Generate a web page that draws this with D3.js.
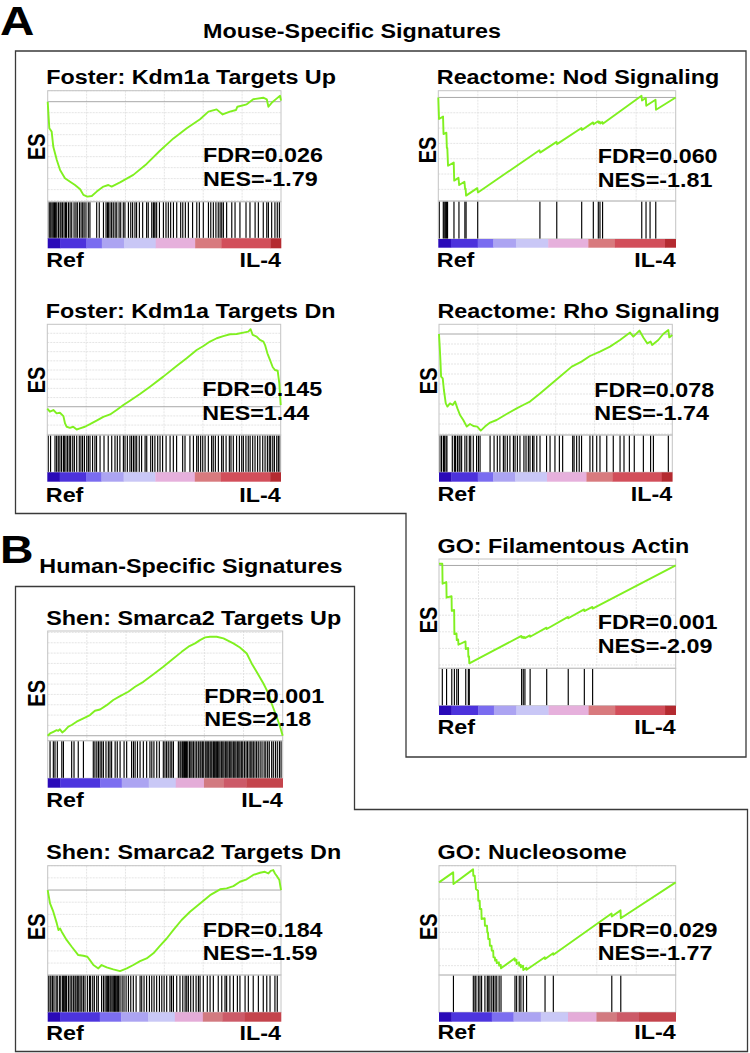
<!DOCTYPE html>
<html><head><meta charset="utf-8">
<script src="https://cdn.jsdelivr.net/npm/d3@7"></script>
<style>
body{margin:0;background:#fff}
text{font-family:"Liberation Sans",Arial,Helvetica,sans-serif;font-weight:bold;fill:#000}
</style></head>
<body><svg id="chart" width="750" height="1053"></svg>
<script>
// ---------------- DATA ----------------
const titles = ["Foster: Kdm1a Targets Up","Reactome: Nod Signaling","Foster: Kdm1a Targets Dn","Reactome: Rho Signaling",
  "GO: Filamentous Actin","Shen: Smarca2 Targets Up","Shen: Smarca2 Targets Dn","GO: Nucleosome"];
const fdrValues = ["0.026","0.060","0.145","0.078","0.001","0.001","0.184","0.029"];
const nesValues = ["-1.79","-1.81","1.44","-1.74","-2.09","2.18","-1.59","-1.77"];
const groupLabels = ["Ref","IL-4"];
const sectionHeaders = ["Mouse-Specific Signatures","Human-Specific Signatures"];
const sectionLetters = ["A","B"];

// ES domains [min,max] and gridline step (ES units)
const esDomains = [[-0.455,0.05],[-0.676,0.044],[-0.154,0.449],[-0.505,0.0485],[-0.62,0.039],[-0.024,0.507],[-0.349,0.1],[-0.556,0.1]];
const esSteps = [0.05,0.1,0.05,0.05,0.1,0.05,0.05,0.1];

// running enrichment score: [rank % of list, ES]
const esFosterUp = [[0,0],[0.3,-0.053],[0.7,-0.121],[1.7,-0.136],[2.4,-0.205],[3.9,-0.265],[5.3,-0.311],[7.4,-0.348],[9.6,-0.364],[11.7,-0.379],[13.9,-0.398],[15.3,-0.424],[17.0,-0.432],[18.9,-0.429],[21.0,-0.409],[23.9,-0.386],[26.0,-0.379],[27.4,-0.386],[31.0,-0.367],[36.7,-0.333],[42.4,-0.283],[48.1,-0.223],[53.9,-0.167],[59.6,-0.121],[65.3,-0.080],[68.9,-0.045],[72.4,-0.035],[75.0,-0.058],[78.1,-0.045],[80.7,-0.038],[81.3,-0.023],[85.3,-0.012],[88.1,0.011],[92.4,0.018],[93.9,0.011],[94.6,-0.023],[96.0,-0.005],[98.1,0.014],[99.6,0.027],[100,0.005]];
const esNod = [[0,0],[0.3,-0.141],[2.0,-0.125],[2.2,-0.239],[3.4,-0.23],[3.6,-0.33],[3.8,-0.33],[4.1,-0.446],[6.5,-0.425],[6.7,-0.543],[8.5,-0.525],[8.8,-0.572],[11.0,-0.55],[11.3,-0.598],[11.5,-0.595],[11.7,-0.641],[16.4,-0.592],[16.7,-0.62],[42.6,-0.345],[42.9,-0.36],[49.8,-0.29],[50.0,-0.305],[60.3,-0.2],[60.5,-0.212],[65.2,-0.163],[65.4,-0.175],[67.3,-0.155],[67.5,-0.165],[68.0,-0.159],[68.2,-0.17],[69.1,-0.16],[69.3,-0.172],[85.6,0.011],[85.8,-0.02],[87.4,-0.004],[87.6,-0.054],[91.5,-0.015],[91.7,-0.08],[100,0]];
const esFosterDn = [[0,-0.01],[1.1,-0.027],[2.6,-0.018],[4.0,-0.036],[5.4,-0.033],[6.9,-0.051],[7.6,-0.091],[8.3,-0.109],[9.7,-0.115],[11.1,-0.109],[12.6,-0.124],[14.0,-0.118],[16.1,-0.109],[18.3,-0.095],[21.1,-0.076],[24.0,-0.055],[26.9,-0.042],[29.7,-0.018],[32.6,0.009],[35.4,0.033],[39.7,0.069],[44.0,0.109],[49.7,0.164],[55.4,0.222],[59.7,0.264],[64.0,0.309],[66.9,0.331],[69.7,0.355],[72.6,0.373],[75.4,0.385],[78.3,0.395],[81.1,0.396],[84.0,0.404],[86.1,0.409],[87.1,0.422],[88.0,0.391],[89.7,0.382],[91.1,0.364],[92.6,0.355],[93.3,0.336],[94.3,0.291],[95.4,0.255],[96.6,0.215],[97.6,0.2],[98.7,0.196],[99.4,0.127],[100,0.009]];
const esRho = [[0,0],[0.3,-0.063],[0.6,-0.13],[0.9,-0.213],[1.6,-0.222],[2.1,-0.28],[2.9,-0.347],[3.6,-0.363],[4.7,-0.347],[5.9,-0.355],[6.9,-0.338],[7.9,-0.372],[9.0,-0.405],[10.4,-0.43],[11.9,-0.463],[13.3,-0.45],[14.7,-0.46],[16.4,-0.463],[17.9,-0.483],[19.7,-0.463],[21.9,-0.443],[24.7,-0.43],[29.0,-0.4],[33.3,-0.372],[36.1,-0.355],[39.0,-0.338],[43.3,-0.297],[47.6,-0.255],[51.9,-0.213],[56.9,-0.163],[61.1,-0.138],[64.7,-0.11],[69.0,-0.088],[73.3,-0.063],[77.6,-0.03],[81.9,0.007],[83.3,-0.013],[85.9,0.017],[87.6,-0.017],[89.3,-0.047],[90.7,-0.038],[91.4,-0.055],[94.0,-0.03],[96.1,0],[98.3,0.02],[98.7,-0.017],[100,-0.005]];
const esActin = [[0,0.01],[1.4,0.01],[1.5,-0.11],[3.1,-0.1],[3.2,-0.194],[5.3,-0.185],[5.4,-0.274],[6.4,-0.268],[6.5,-0.414],[7.4,-0.41],[7.5,-0.45],[8.1,-0.446],[8.2,-0.478],[11.2,-0.458],[11.3,-0.504],[12.3,-0.497],[12.4,-0.55],[12.7,-0.548],[12.8,-0.59],[34.8,-0.425],[34.9,-0.435],[35.5,-0.43],[35.6,-0.437],[36.2,-0.432],[36.3,-0.438],[38.4,-0.422],[38.5,-0.43],[45.4,-0.375],[45.5,-0.383],[54.5,-0.31],[54.6,-0.318],[61.3,-0.265],[61.4,-0.275],[64.8,-0.25],[64.9,-0.26],[100,0]];
const esShenUp = [[0,0],[1.0,0.011],[2.4,0.019],[3.8,0.027],[4.5,0.024],[5.2,0.031],[6.2,0.016],[7.4,0.027],[8.8,0.044],[10.2,0.052],[12.3,0.068],[15.2,0.084],[18.0,0.1],[20.1,0.121],[22.3,0.127],[25.1,0.148],[27.9,0.173],[30.8,0.192],[34.3,0.213],[37.2,0.237],[40.7,0.261],[45.0,0.298],[49.2,0.334],[53.5,0.374],[57.0,0.406],[59.9,0.431],[62.7,0.447],[64.8,0.463],[67.0,0.476],[69.1,0.479],[71.9,0.479],[74.8,0.471],[79.0,0.447],[81.8,0.427],[84.7,0.398],[86.8,0.35],[88.9,0.31],[91.8,0.253],[93.9,0.205],[95.3,0.156],[97.4,0.092],[98.9,0.044],[100,0]];
const esShenDn = [[0,0],[1.0,-0.055],[2.4,-0.089],[3.9,-0.137],[4.6,-0.164],[5.3,-0.158],[6.0,-0.171],[8.1,-0.205],[10.3,-0.233],[13.1,-0.267],[15.3,-0.27],[17.0,-0.274],[18.1,-0.288],[19.6,-0.308],[21.7,-0.322],[23.1,-0.308],[25.3,-0.318],[28.1,-0.326],[31.0,-0.333],[33.9,-0.322],[36.7,-0.308],[39.6,-0.292],[42.4,-0.281],[45.3,-0.26],[48.1,-0.229],[51.0,-0.199],[53.9,-0.164],[57.4,-0.123],[61.0,-0.089],[65.3,-0.055],[69.6,-0.021],[73.9,0.003],[76.7,0.007],[79.6,0.016],[82.4,0.034],[85.3,0.044],[88.1,0.062],[91.0,0.071],[93.1,0.075],[94.6,0.068],[95.6,0.079],[96.7,0.082],[97.4,0.068],[98.4,0.055],[99.3,0.041],[100,0]];
const esNucleosome = [[0,0],[6.0,0.06],[6.1,-0.01],[14.4,0.078],[14.5,0.04],[15.1,0.04],[15.2,0.0],[15.5,0.0],[15.6,-0.04],[16.5,-0.05],[16.6,-0.11],[17.2,-0.11],[17.3,-0.16],[17.9,-0.16],[18.0,-0.22],[19.3,-0.215],[19.4,-0.26],[20.3,-0.26],[20.4,-0.3],[20.7,-0.3],[20.8,-0.34],[21.4,-0.34],[21.5,-0.38],[22.2,-0.38],[22.3,-0.41],[22.9,-0.41],[23.0,-0.45],[23.6,-0.45],[23.7,-0.47],[24.3,-0.465],[24.4,-0.485],[25.3,-0.48],[25.4,-0.5],[26.1,-0.495],[26.2,-0.516],[32.0,-0.456],[32.1,-0.47],[32.7,-0.464],[32.8,-0.49],[33.8,-0.48],[33.9,-0.5],[34.5,-0.494],[34.6,-0.51],[35.5,-0.5],[35.6,-0.526],[36.9,-0.512],[37.0,-0.525],[44.7,-0.45],[44.8,-0.46],[48.2,-0.425],[48.3,-0.435],[72.9,-0.187],[73.0,-0.205],[76.7,-0.168],[76.8,-0.215],[100,0]];

// gene-set hit positions (rank % of list)
const hitsFosterUp = [0.6,1.0,1.4,1.9,2.4,2.9,3.4,3.9,4.6,5.3,5.7,6.3,7.0,7.6,8.1,8.9,9.6,10.3,11.3,12.1,12.7,13.6,14.3,15.0,15.6,16.4,17.4,18.1,21.0,22.1,23.9,25.0,25.6,26.0,26.7,27.4,28.1,28.9,29.6,30.6,31.3,32.4,33.1,34.6,35.6,36.4,37.4,38.1,39.3,40.7,42.4,43.1,44.6,45.3,45.6,46.0,46.7,47.9,49.6,50.7,51.7,52.7,53.9,55.3,57.0,57.9,59.0,60.3,62.1,63.9,65.0,66.7,68.9,69.9,71.0,72.1,73.1,73.9,74.6,75.3,76.7,78.9,80.3,82.4,85.0,86.7,88.9,90.3,92.4,93.9,94.6,96.0,97.4,98.4,99.3];
const hitsNod = [0.4,2.1,2.5,3.1,3.5,3.9,6.6,8.7,11.2,11.7,16.6,42.8,49.9,60.4,65.3,67.4,68.1,69.2,85.7,87.5,89.2,91.6];
const hitsFosterDn = [0.4,1.4,3.3,4.0,4.7,5.4,6.1,6.9,7.3,8.0,8.7,9.4,10.0,10.9,11.6,12.6,13.7,14.4,15.1,15.9,16.9,17.6,18.3,19.4,20.4,21.1,22.6,24.3,26.1,27.6,29.0,30.0,31.1,32.6,33.3,34.3,35.4,36.1,36.9,37.6,38.3,39.4,40.4,41.9,42.6,44.3,45.1,46.1,47.3,48.3,49.4,50.9,52.6,54.0,55.4,58.0,59.0,61.1,62.6,64.0,64.7,65.7,66.6,67.6,69.0,70.4,71.1,72.0,73.3,74.7,75.4,76.6,78.0,78.7,79.7,81.1,82.3,83.3,84.0,85.1,86.1,86.9,88.0,89.0,90.1,91.1,92.3,93.3,94.3,95.1,95.7,96.6,97.3,98.3,99.0,99.7];
const hitsRho = [0.4,1.1,1.9,2.3,3.0,3.4,5.7,6.6,7.1,7.9,8.6,9.0,9.7,11.1,11.9,13.0,13.6,14.7,16.1,16.9,17.6,21.9,23.6,25.0,26.1,27.6,28.3,29.3,30.4,31.9,32.6,33.6,34.7,36.4,37.3,38.3,39.0,40.1,40.7,41.9,43.3,46.1,47.6,49.7,51.6,53.0,57.3,57.9,59.0,60.1,61.1,64.7,65.9,67.6,69.0,71.9,74.7,77.6,79.3,81.6,83.7,87.6,90.7,91.9,98.3];
const hitsActin = [1.4,3.2,5.4,6.5,7.5,8.2,11.3,12.4,12.8,34.9,35.6,36.3,38.5,45.5,54.6,61.4,64.9];
const hitsShenUp = [1.0,2.4,3.1,4.1,6.0,6.7,10.2,11.2,13.0,15.2,19.4,20.1,20.9,21.6,22.3,23.0,23.7,24.8,25.8,26.5,27.2,28.7,29.6,30.8,32.5,33.6,35.7,36.5,37.2,38.2,39.3,40.7,42.1,43.5,44.3,45.2,46.4,47.5,49.2,49.9,50.6,51.3,52.1,52.8,53.5,55.6,56.3,56.7,57.3,57.7,58.2,58.6,59.1,59.6,60.3,60.9,61.4,62.0,62.7,63.4,64.1,64.8,65.2,65.8,66.2,67.0,67.4,67.9,68.5,69.1,69.5,69.9,70.5,70.9,71.3,71.9,72.3,72.8,73.3,73.9,74.5,75.0,75.6,76.2,76.7,77.3,77.9,78.4,79.0,79.6,80.1,80.7,81.3,81.8,82.4,83.0,83.7,84.4,85.0,85.7,86.4,86.9,87.5,88.2,88.9,89.6,90.4,91.2,92.1,92.8,93.6,94.3,95.3,96.0,96.9,97.7,98.6,99.3];
const hitsShenDn = [0.3,1.0,1.4,2.1,2.7,3.6,4.1,5.0,5.6,6.4,6.7,7.1,7.7,8.1,8.9,9.6,10.3,11.0,11.7,12.1,12.7,13.3,13.9,14.6,15.3,16.0,17.0,17.9,18.4,19.3,20.0,21.0,21.7,23.1,23.9,24.6,25.3,25.7,26.1,26.7,27.1,27.6,28.1,28.6,29.0,29.6,30.0,30.4,31.0,31.9,32.7,33.6,34.6,35.6,36.7,37.9,39.6,40.3,41.3,42.4,43.6,44.6,45.6,46.7,47.9,48.9,49.9,51.0,52.4,53.1,53.9,55.3,56.7,57.9,58.9,59.6,60.3,61.3,62.4,63.6,64.6,65.3,66.7,68.4,69.6,71.0,73.1,74.6,76.0,76.7,78.1,79.6,81.3,82.4,84.6,86.0,88.1,90.3,92.4,93.9,95.3,97.4,98.4];
const hitsNucleosome = [6.1,14.5,15.2,15.6,16.6,17.3,18.0,19.4,20.4,20.8,21.5,22.3,23.0,23.7,24.4,25.4,26.2,32.1,32.8,33.9,34.6,35.6,37.0,44.8,48.3,73.0,76.8];

const esSeries = [esFosterUp,esNod,esFosterDn,esRho,esActin,esShenUp,esShenDn,esNucleosome];
const hitSeries = [hitsFosterUp,hitsNod,hitsFosterDn,hitsRho,hitsActin,hitsShenUp,hitsShenDn,hitsNucleosome];

// ranked-list metric colour bar: [from %, to %, colour]
const mouseBar = [[0,5.3,"#2a0ab8"],[5.3,16.6,"#4c32dc"],[16.6,23.2,"#7a6cf0"],[23.2,32.7,"#aca4f2"],[32.7,46.3,"#c9c7f6"],[46.3,63.2,"#e6b0dc"],[63.2,74.4,"#d87a7e"],[74.4,95.5,"#d24e5a"],[95.5,100,"#b42a30"]];
const humanBar = [[0,5.3,"#2a0ab8"],[5.3,22.3,"#4c34de"],[22.3,31.5,"#7c6ef0"],[31.5,43,"#aca4f2"],[43,54.5,"#c9c8f6"],[54.5,66.5,"#e4acd8"],[66.5,75,"#d27a80"],[75,84.5,"#cc5a68"],[84.5,100,"#c4444c"]];
const barSeries = [mouseBar,mouseBar,mouseBar,mouseBar,mouseBar,humanBar,humanBar,humanBar];

// ---------------- LAYOUT ----------------
const layout = [
 {L:47.7,R:281,top:90.7,esB:201.7,hitB:238.3,cbB:248.3,titleY:84,refY:266.7,fdrX:203,fdrY:162.3,nesY:185.7,esLY:146.7},
 {L:438.3,R:675.7,top:90.7,esB:201,hitB:239,cbB:247.7,titleY:84.3,refY:266.7,fdrX:597.7,fdrY:163.3,nesY:186.7,esLY:150},
 {L:47.3,R:280.7,top:324.3,esB:435,hitB:472.3,cbB:481.7,titleY:317.7,refY:501.7,fdrX:202.3,fdrY:395.7,nesY:420,esLY:380},
 {L:439,R:672.3,top:324.3,esB:435,hitB:472.3,cbB:481.7,titleY:317.7,refY:500.7,fdrX:594.3,fdrY:397.3,nesY:420,esLY:380.8},
 {L:439,R:675.7,top:559,esB:668.3,hitB:705.7,cbB:715,titleY:553.3,refY:734.3,fdrX:597.7,fdrY:629.3,nesY:653.3,esLY:620},
 {L:47.7,R:282.7,top:631,esB:740.7,hitB:778.3,cbB:787.7,titleY:625,refY:806.7,fdrX:204.3,fdrY:702.7,nesY:725.7,esLY:693.3},
 {L:47.7,R:281,top:865.7,esB:975,hitB:1012.3,cbB:1021.7,titleY:859,refY:1040,fdrX:202.7,fdrY:936.7,nesY:960,esLY:926.7},
 {L:439,R:675.7,top:865.7,esB:975,hitB:1012.3,cbB:1021.7,titleY:859,refY:1039,fdrX:597.7,fdrY:936.7,nesY:960,esLY:926.7}
];
const SX = 1.19, FS = 19.6;

const svg = d3.select("#chart");
svg.append("rect").attr("width",750).attr("height",1053).attr("fill","#fff");

function label(g, x, y, s, o = {}) {
  return g.append("text")
    .attr("transform", `translate(${x},${y}) scale(${SX},1)` + (o.rot ? " rotate(-90)" : ""))
    .attr("font-size", o.size || FS)
    .attr("text-anchor", o.anchor || "start")
    .text(s);
}

// section boxes
const boxStyle = s => s.attr("fill","none").attr("stroke","#3a3a3a").attr("stroke-width",1.3);
boxStyle(svg.append("path").attr("d","M15.5,51 H746 V757 H406 V513.5 H15.5 Z"));
boxStyle(svg.append("path").attr("d","M15.5,586.5 H354.5 V809.5 H747.5 V1051.5 H15.5 Z"));

label(svg, 0, 35, sectionLetters[0], {size:40});
label(svg, 0, 563.3, sectionLetters[1], {size:39});
label(svg, 203, 37.7, sectionHeaders[0]);
label(svg, 39.3, 573.3, sectionHeaders[1]);

const esLine = d3.line().curve(d3.curveLinear);

layout.forEach((p, i) => {
  const g = svg.append("g");
  const x = d3.scaleLinear().domain([0,100]).range([p.L, p.R]);
  const y = d3.scaleLinear().domain(esDomains[i]).range([p.esB, p.top]);
  const step = esSteps[i];

  g.append("rect").attr("x",p.L).attr("y",p.top).attr("width",p.R-p.L).attr("height",p.hitB-p.top).attr("fill","#fff");

  // grid
  const vTicks = d3.range(1,6).map(k => k*100/6);
  g.selectAll(".vg").data(vTicks).join("line")
    .attr("x1",d=>x(d)).attr("x2",d=>x(d)).attr("y1",p.top).attr("y2",p.esB)
    .attr("stroke","#dedede").attr("stroke-width",0.8).attr("stroke-dasharray","2,1");
  const dom = esDomains[i];
  const hTicks = d3.range(Math.ceil(dom[0]/step - 1e-6), Math.floor(dom[1]/step + 1e-6) + 1).map(k => k*step).filter(v => Math.abs(v) > 1e-9);
  g.selectAll(".hg").data(hTicks).join("line")
    .attr("x1",p.L).attr("x2",p.R).attr("y1",d=>y(d)).attr("y2",d=>y(d))
    .attr("stroke","#dedede").attr("stroke-width",0.8).attr("stroke-dasharray","2,1");
  // zero line
  g.append("line").attr("x1",p.L).attr("x2",p.R).attr("y1",y(0)).attr("y2",y(0))
    .attr("stroke","#a8a8a8").attr("stroke-width",1);

  // hits
  g.selectAll(".hit").data(hitSeries[i]).join("line")
    .attr("x1",d=>x(d)).attr("x2",d=>x(d)).attr("y1",p.esB).attr("y2",p.hitB)
    .attr("stroke","#000").attr("stroke-width",1.15);

  // frames
  g.append("rect").attr("x",p.L).attr("y",p.top).attr("width",p.R-p.L).attr("height",p.esB-p.top)
    .attr("fill","none").attr("stroke","#c4c4c4").attr("stroke-width",1);
  g.append("rect").attr("x",p.L).attr("y",p.esB).attr("width",p.R-p.L).attr("height",p.hitB-p.esB)
    .attr("fill","none").attr("stroke","#c4c4c4").attr("stroke-width",1);

  // colour bar
  g.selectAll(".cb").data(barSeries[i]).join("rect")
    .attr("x",d=>x(d[0])).attr("width",d=>x(d[1])-x(d[0])+0.3)
    .attr("y",p.hitB).attr("height",p.cbB-p.hitB).attr("fill",d=>d[2]);

  // ES curve
  g.append("path").attr("d", esLine(esSeries[i].map(d => [x(d[0]), y(d[1])])))
    .attr("fill","none").attr("stroke","#80f020").attr("stroke-width",1.9).attr("stroke-linejoin","round");

  // texts
  label(g, p.L - 1.5, p.titleY, titles[i]);
  label(g, p.fdrX, p.fdrY, "FDR=" + fdrValues[i]);
  label(g, p.fdrX, p.nesY, "NES=" + nesValues[i]);
  label(g, p.L - 1.5, p.refY, groupLabels[0]);
  label(g, p.R, p.refY, groupLabels[1], {anchor:"end"});
  label(g, p.L - 2.5, p.esLY, "ES", {rot:true, anchor:"middle", size:20});
});
</script></body></html>
